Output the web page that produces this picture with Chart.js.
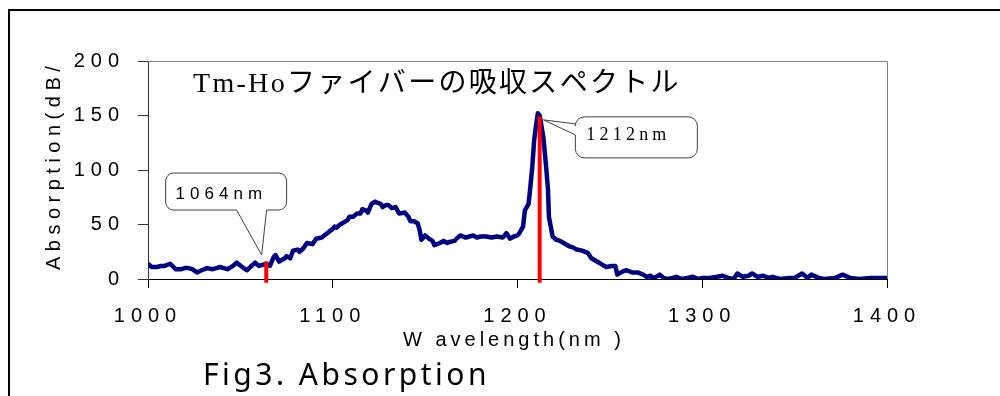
<!DOCTYPE html>
<html>
<head>
<meta charset="utf-8">
<title>Tm-Ho fiber absorption</title>
<script src="https://cdn.jsdelivr.net/npm/chart.js@4.4.1/dist/chart.umd.min.js"></script>
<style>
  html, body { margin: 0; padding: 0; background: #fff; overflow: hidden; }
  canvas { display: block; }
</style>
</head>
<body>
<canvas id="chart" width="1000" height="396"></canvas>
<script>
// Measured absorption spectrum (wavelength in nm, absorption in dB/...)
const wavelengths = [
  1000, 1002, 1005, 1007, 1009, 1012, 1015, 1018, 1020, 1022, 1024, 1026.5, 1029, 1032, 1035, 1037, 1039, 1041, 1043, 1046,
  1048, 1051, 1053.5, 1056, 1058, 1060, 1062, 1064, 1066, 1068, 1069, 1071, 1074, 1075, 1077, 1078.5, 1081, 1082, 1084, 1086,
  1089, 1091, 1094, 1097, 1100, 1101, 1102, 1104, 1106, 1108, 1109, 1111, 1113, 1115, 1116, 1118, 1119, 1121, 1123, 1124,
  1126, 1127, 1129, 1130, 1132, 1134, 1136, 1139, 1141, 1142, 1144, 1146, 1147, 1148, 1150, 1152, 1154, 1155, 1158, 1160,
  1162, 1163, 1166, 1167, 1169, 1172, 1174, 1176, 1178, 1180, 1183, 1186, 1189, 1192, 1194, 1196, 1198, 1200, 1201, 1203,
  1204, 1206, 1207, 1208, 1209, 1210, 1211, 1212, 1214, 1215.5, 1216.5, 1217, 1219, 1221, 1223, 1225, 1228, 1230, 1232, 1235,
  1238, 1240, 1243, 1246, 1248, 1251, 1253, 1254, 1257, 1259, 1262, 1265, 1268, 1270, 1272, 1273, 1275, 1277, 1279, 1281,
  1284, 1286, 1289, 1292, 1295, 1298, 1300, 1304, 1308, 1311, 1314, 1317, 1319, 1322, 1325, 1327, 1330, 1333, 1336, 1338,
  1342, 1347, 1350, 1354, 1357, 1359, 1363, 1366, 1372, 1376, 1380, 1385, 1391, 1396, 1400
];
const absorption = [
  14, 11, 11, 12, 12, 14, 9, 9, 10, 10, 9, 6, 8, 10, 9, 10, 11, 10, 9, 12,
  15, 11, 8, 12, 15, 12, 13, 14, 12, 20, 22, 16, 19, 21, 19, 26, 27, 25, 28, 33,
  32, 37, 38, 42, 46, 48, 47, 50, 52, 54, 57, 57, 60, 60, 64, 63, 61, 69, 71, 70,
  69, 66, 68, 68, 65, 66, 60, 61, 57, 53, 53, 51, 45, 36, 40, 37, 35, 31, 33, 35,
  33, 34, 35, 37, 40, 38, 39, 40, 38, 39, 39, 38, 39, 38, 42, 37, 39, 40, 42, 48,
  63, 69, 85, 103, 127, 140, 152, 150, 130, 103, 82, 57, 39, 36, 35, 33, 30, 29, 27, 26,
  24, 19, 16, 13, 11, 12, 12, 4, 7, 8, 6, 6, 4, 2, 3, 1, 2, 4, 1, 0,
  1, 2, 0, 1, 2, 0, 1, 1, 2, 3, 1, 0, 5, 2, 3, 5, 2, 3, 1, 2,
  0, 1, 1, 5, 1, 4, 1, 0, 1, 4, 1, 0, 1, 1, 1
];

// Laser wavelength markers and their callouts
const markerWavelengths = [1064, 1212];
const markerTops = [16, 149];
const markerBottom = -3.5;
const markerLabels = ['1064nm', '1212nm'];
// where each callout pointer touches the curve: [wavelength, absorption]
const calloutTips = [[1061.5, 22], [1214, 146]];

// Axis ranges and tick steps
const xRange = [1000, 1400];
const xStep = 100;
const yRange = [0, 200];
const yStep = 50;

const chartTitle = 'Tm-Hoファイバーの吸収スペクトル';
const xTitle = 'W avelength(nm )';
const yTitle = 'Absorption(dB/';
const caption = 'Fig3. Absorption';

const spectrum = wavelengths.map((w, i) => ({ x: w, y: absorption[i] }));
const markerSets = markerWavelengths.map((w, i) => ({
  data: [{ x: w, y: markerBottom }, { x: w, y: markerTops[i] }],
  borderColor: '#ff0000',
  borderWidth: 4,
  borderCapStyle: 'butt',
  pointRadius: 0,
  clip: false,
  order: 1
}));

function roundedPath(ctx, x, y, w, h, r) {
  ctx.moveTo(x + r, y);
  ctx.lineTo(x + w - r, y);
  ctx.arcTo(x + w, y, x + w, y + r, r);
  ctx.lineTo(x + w, y + h - r);
  ctx.arcTo(x + w, y + h, x + w - r, y + h, r);
}

// Rounded box with a wedge on the bottom edge
function calloutBottom(ctx, tip, box, a, b) {
  const { x, y, w, h, r } = box;
  ctx.beginPath();
  roundedPath(ctx, x, y, w, h, r);
  ctx.lineTo(b, y + h);
  ctx.lineTo(tip.x, tip.y);
  ctx.lineTo(a, y + h);
  ctx.lineTo(x + r, y + h);
  ctx.arcTo(x, y + h, x, y + h - r, r);
  ctx.lineTo(x, y + r);
  ctx.arcTo(x, y, x + r, y, r);
  ctx.closePath();
  ctx.fill();
  ctx.stroke();
}

// Rounded box with a wedge on the left edge
function calloutLeft(ctx, tip, box, a, b) {
  const { x, y, w, h, r } = box;
  ctx.beginPath();
  roundedPath(ctx, x, y, w, h, r);
  ctx.lineTo(x + r, y + h);
  ctx.arcTo(x, y + h, x, y + h - r, r);
  ctx.lineTo(x, b);
  ctx.lineTo(tip.x, tip.y);
  ctx.lineTo(x, a);
  ctx.lineTo(x, y + r);
  ctx.arcTo(x, y, x + r, y, r);
  ctx.closePath();
  ctx.fill();
  ctx.stroke();
}

const decorations = {
  id: 'decorations',
  beforeDraw(chart) {
    const ctx = chart.ctx;
    ctx.save();
    ctx.fillStyle = '#fff';
    ctx.fillRect(0, 0, chart.width, chart.height);
    ctx.restore();
    // wide tracking for the axis tick labels
    ctx.letterSpacing = '6px';
  },
  afterDraw(chart) {
    const ctx = chart.ctx;
    const { left, top, right, bottom } = chart.chartArea;
    const xs = chart.scales.x, ys = chart.scales.y;
    ctx.save();

    // plot frame (top and right sides)
    ctx.strokeStyle = '#808080';
    ctx.lineWidth = 1;
    ctx.beginPath();
    ctx.moveTo(left, Math.round(top) + 0.5);
    ctx.lineTo(Math.round(right) + 0.5, Math.round(top) + 0.5);
    ctx.lineTo(Math.round(right) + 0.5, bottom);
    ctx.stroke();

    // outer figure frame
    ctx.strokeStyle = '#000';
    ctx.lineWidth = 2;
    ctx.strokeRect(9, 10, 1200, 700);

    // chart title inside the plot
    ctx.fillStyle = '#000';
    ctx.textAlign = 'left';
    ctx.textBaseline = 'alphabetic';
    ctx.letterSpacing = '2.3px';
    ctx.font = '28px "Liberation Serif", "Noto Sans CJK JP", serif';
    ctx.fillText(chartTitle, 193, 92);

    // callouts
    ctx.fillStyle = '#fff';
    ctx.strokeStyle = '#404040';
    ctx.lineWidth = 1;
    const t0 = { x: xs.getPixelForValue(calloutTips[0][0]), y: ys.getPixelForValue(calloutTips[0][1]) };
    calloutBottom(ctx, t0, { x: t0.x - 96, y: t0.y - 82, w: 121, h: 37, r: 8 }, t0.x - 25, t0.x + 5);
    ctx.fillStyle = '#000';
    ctx.letterSpacing = '5px';
    ctx.font = '17px "Liberation Sans", Arial, sans-serif';
    ctx.fillText(markerLabels[0], t0.x - 86, t0.y - 56.5);

    const t1 = { x: xs.getPixelForValue(calloutTips[1][0]), y: ys.getPixelForValue(calloutTips[1][1]) };
    ctx.fillStyle = '#fff';
    calloutLeft(ctx, t1, { x: t1.x + 32, y: t1.y - 3, w: 122, h: 41, r: 9 }, t1.y + 4, t1.y + 15);
    ctx.fillStyle = '#000';
    ctx.letterSpacing = '4.2px';
    ctx.font = '18px "Liberation Serif", "Times New Roman", serif';
    ctx.fillText(markerLabels[1], t1.x + 43, t1.y + 20);

    // axis titles
    ctx.letterSpacing = '4px';
    ctx.font = '20px "Liberation Sans", Arial, sans-serif';
    ctx.fillText(xTitle, 403, 346);

    ctx.save();
    ctx.translate(60, 270);
    ctx.rotate(-Math.PI / 2);
    ctx.letterSpacing = '5.5px';
    ctx.fillText(yTitle, 0, 0);
    ctx.restore();

    // figure caption
    ctx.letterSpacing = '3.5px';
    ctx.font = '30px "Noto Sans", sans-serif';
    ctx.fillText(caption, 203, 385);

    ctx.restore();
  }
};

const tickFont = { family: '"Liberation Sans", Arial, sans-serif', size: 20 };

new Chart(document.getElementById('chart'), {
  type: 'line',
  data: {
    datasets: [
      ...markerSets,
      {
        data: spectrum,
        borderColor: '#000080',
        borderWidth: 4.5,
        borderJoinStyle: 'round',
        pointRadius: 0,
        tension: 0,
        order: 2
      }
    ]
  },
  options: {
    responsive: false,
    animation: false,
    devicePixelRatio: 1,
    layout: { padding: { top: 61, right: 113, bottom: 37, left: 0 } },
    plugins: {
      legend: { display: false },
      tooltip: { enabled: false },
      title: { display: false }
    },
    scales: {
      x: {
        type: 'linear',
        min: xRange[0],
        max: xRange[1],
        ticks: { stepSize: xStep, padding: 16, color: '#000', font: tickFont, maxRotation: 0, autoSkip: false, format: { useGrouping: false } },
        grid: { drawOnChartArea: false, drawTicks: true, tickLength: 9, color: '#000', lineWidth: 1 },
        border: { display: true, color: '#000', width: 1 },
        afterFit(s) { s.height = 80; }
      },
      y: {
        min: yRange[0],
        max: yRange[1],
        ticks: { stepSize: yStep, padding: 13, color: '#000', font: tickFont },
        grid: { drawOnChartArea: false, drawTicks: true, tickLength: 10, color: '#333', lineWidth: 1 },
        border: { display: true, color: '#333', width: 1 },
        afterFit(s) { s.width = 148; }
      }
    }
  },
  plugins: [decorations]
});
</script>
</body>
</html>
